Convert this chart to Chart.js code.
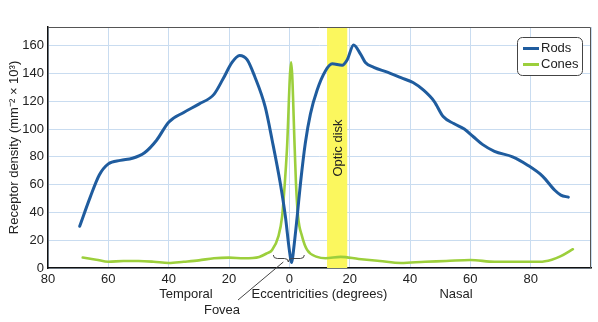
<!DOCTYPE html>
<html>
<head>
<meta charset="utf-8">
<script src="https://cdn.jsdelivr.net/npm/chart.js@4"></script>
<style>
  body { margin: 0; background: #fff; }
  #wrap { width: 598px; height: 322px; }
</style>
</head>
<body>
<div id="wrap"><canvas id="chart"></canvas></div>
<script>
'use strict';

// eccentricity in degrees (negative = temporal side)
let rodAngles = [-69.5, -66, -63, -60, -56, -52, -48, -44, -40, -35, -30, -25, -22, -19, -16.5, -14, -11.5, -8, -5.7, -3, -1.3, 0, 0.8, 1.4, 2.6, 3.7, 5.3, 7, 9.2, 12, 14.2, 17.5, 19.2, 21.3, 23.6, 25.2, 28, 32.5, 37, 41, 44.5, 48, 51, 54.5, 58, 61, 64, 68, 74, 79, 84, 88, 90, 92.5];
let rodValues = [30, 51, 67, 75, 77.5, 79, 83, 92, 105, 112, 118, 125, 136, 148, 153, 150, 138, 116, 92, 61, 37, 13, 4, 13, 37, 61, 90, 111, 128, 142, 147, 146, 150, 160.5, 154, 148, 144.5, 141, 137, 133.5, 128, 120, 109, 104, 100, 94.5, 89, 84, 80, 74, 66, 56, 52.5, 51];

let coneAngles = [-68.5, -64, -60, -55, -50, -45, -40, -35, -30, -25, -20, -15, -10, -7.5, -5.7, -3.6, -2.4, -1.5, -0.8, 0.6, 1.8, 2.2, 2.9, 4.2, 5.9, 9.2, 12, 17, 23, 30, 37, 45, 52, 60, 68, 76, 83, 87, 90, 94];
let coneValues = [7.5, 6, 4.5, 5, 5, 4.5, 3.6, 4.5, 5.5, 7, 7.5, 7, 8, 10.5, 13, 23, 37, 61, 85, 148, 85, 61, 37, 23, 13, 8, 7, 8, 6.5, 5, 3.6, 4.5, 5, 5.8, 4.5, 4.5, 4.5, 6, 8.5, 13.5];

let xTicks = [-80, -60, -40, -20, 0, 20, 40, 60, 80];
let yTicks = [0, 20, 40, 60, 80, 100, 120, 140, 160];
let opticDisk = [12.5, 19.2];

let canvasElem = document.getElementById('chart');
let font = '"Liberation Sans", Arial, Helvetica, sans-serif';
let rodColor = '#1f5c9e';
let coneColor = '#9ccf3c';
let gridColor = '#c9dcf0';

function toPoints(xs, ys) {
  let pts = [];
  for (let i = 0; i < xs.length; i++) {
    pts.push({ x: xs[i], y: ys[i] });
  }
  return pts;
}

let overlay = {
  id: 'overlay',
  beforeDatasetsDraw(chart) {
    let ctx = chart.ctx;
    let area = chart.chartArea;
    let xs = chart.scales.x;
    let x0 = xs.getPixelForValue(opticDisk[0]);
    let x1 = xs.getPixelForValue(opticDisk[1]);
    ctx.save();
    ctx.fillStyle = '#fbf75e';
    ctx.fillRect(x0, area.top, x1 - x0, area.bottom - area.top);
    ctx.restore();
  },
  afterDatasetsDraw(chart) {
    let ctx = chart.ctx;
    let area = chart.chartArea;
    let xs = chart.scales.x;
    ctx.save();

    // top and right frame
    ctx.strokeStyle = '#555';
    ctx.lineWidth = 1;
    ctx.beginPath();
    ctx.moveTo(area.left, area.top + 0.5);
    ctx.lineTo(area.right - 0.5, area.top + 0.5);
    ctx.lineTo(area.right - 0.5, area.bottom);
    ctx.stroke();

    ctx.fillStyle = '#222';
    ctx.font = '13px ' + font;

    // optic disk label
    let cx = xs.getPixelForValue((opticDisk[0] + opticDisk[1]) / 2);
    ctx.save();
    ctx.translate(cx + 1, 148);
    ctx.rotate(-Math.PI / 2);
    ctx.textAlign = 'center';
    ctx.textBaseline = 'middle';
    ctx.fillText('Optic disk', 0, 0);
    ctx.restore();

    // x axis captions
    ctx.textAlign = 'center';
    ctx.textBaseline = 'middle';
    ctx.fillText('Eccentricities (degrees)', (area.left + area.right) / 2, 294);
    ctx.fillText('Temporal', 186, 294);
    ctx.fillText('Nasal', 456, 294);
    ctx.fillText('Fovea', 222, 310);

    // fovea brace and pointer
    let fx = xs.getPixelForValue(0) - 1;
    ctx.strokeStyle = '#444';
    ctx.lineWidth = 1;
    ctx.beginPath();
    ctx.moveTo(fx - 15, 255);
    ctx.quadraticCurveTo(fx - 15, 258.5, fx - 11, 258.5);
    ctx.lineTo(fx - 4, 258.5);
    ctx.quadraticCurveTo(fx, 258.5, fx, 262);
    ctx.quadraticCurveTo(fx, 258.5, fx + 4, 258.5);
    ctx.lineTo(fx + 12, 258.5);
    ctx.quadraticCurveTo(fx + 16, 258.5, fx + 16, 255);
    ctx.stroke();
    ctx.beginPath();
    ctx.moveTo(238, 300);
    ctx.lineTo(fx - 5, 262);
    ctx.stroke();

    // legend
    let lx = 517, ly = 37, lw = 65, lh = 38;
    ctx.beginPath();
    ctx.roundRect(lx + 0.5, ly + 0.5, lw, lh, 5);
    ctx.fillStyle = '#fff';
    ctx.fill();
    ctx.strokeStyle = '#444';
    ctx.stroke();
    let items = chart.data.datasets;
    for (let i = 0; i < items.length; i++) {
      let y = ly + 11.5 + i * 16;
      ctx.strokeStyle = items[i].borderColor;
      ctx.lineWidth = 3;
      ctx.beginPath();
      ctx.moveTo(lx + 6, y);
      ctx.lineTo(lx + 22, y);
      ctx.stroke();
      ctx.fillStyle = '#222';
      ctx.textAlign = 'left';
      ctx.fillText(items[i].label, lx + 24, y);
    }
    ctx.restore();
  }
};

function renderChart() {
  let chartObj = {
    type: 'line',
    data: {
      datasets: [{
        label: 'Rods',
        data: toPoints(rodAngles, rodValues),
        borderColor: rodColor,
        borderWidth: 3,
        borderCapStyle: 'round',
        borderJoinStyle: 'round',
        pointRadius: 0,
        cubicInterpolationMode: 'monotone',
        tension: 0.4
      },
      {
        label: 'Cones',
        data: toPoints(coneAngles, coneValues),
        borderColor: coneColor,
        borderWidth: 2.6,
        borderCapStyle: 'round',
        borderJoinStyle: 'round',
        pointRadius: 0,
        cubicInterpolationMode: 'monotone',
        tension: 0.4
      }]
    },
    options: {
      responsive: true,
      maintainAspectRatio: false,
      animation: false,
      layout: { padding: { top: 27, right: 7, left: 0, bottom: 0 } },
      plugins: {
        legend: { display: false },
        tooltip: { enabled: false }
      },
      scales: {
        x: {
          type: 'linear',
          min: -80,
          max: 100,
          afterFit: (s) => { s.height = 54; },
          afterBuildTicks: (s) => { s.ticks = xTicks.concat([100]).map(v => ({ value: v })); },
          ticks: {
            padding: 4,
            color: '#222',
            font: { family: font, size: 13 },
            maxRotation: 0,
            callback: (v) => (v === 100 ? '' : String(Math.abs(v)))
          },
          grid: { color: gridColor, drawTicks: false },
          border: { color: '#111', width: 1.5 }
        },
        y: {
          min: 0,
          max: 173.5,
          afterFit: (s) => { s.width = 48; },
          afterBuildTicks: (s) => { s.ticks = yTicks.map(v => ({ value: v })); },
          ticks: {
            padding: 4,
            color: '#222',
            font: { family: font, size: 13 }
          },
          grid: { color: gridColor, drawTicks: false },
          border: { color: '#111', width: 1.5 },
          title: {
            display: true,
            text: 'Receptor density (mm\u207B\u00B2 \u00D7 10\u00B3)',
            color: '#222',
            font: { family: font, size: 13 },
            padding: { top: 7, bottom: 0 }
          }
        }
      }
    },
    plugins: [overlay]
  };

  new Chart(canvasElem, chartObj);
}

renderChart();
</script>
</body>
</html>
